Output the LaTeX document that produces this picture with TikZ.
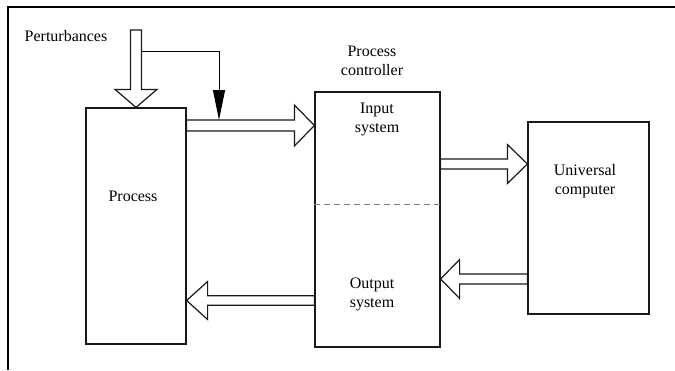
\documentclass[tikz,border=0pt]{standalone}
\usepackage{fontspec}
\setmainfont{Liberation Serif}
\usetikzlibrary{calc,arrows.meta}
\tikzset{
  box/.style={draw=black!90, line width=1.2bp, minimum width=#1, inner sep=0pt},
  lbl/.style={align=center, inner sep=0pt, font=\fontsize{16bp}{19bp}\selectfont},
  blockarrow/.style args={#1/#2/#3}{draw=black!90, fill=white, line width=1.2bp,
    to path={let \p1=(\tikztostart), \p2=(\tikztotarget),
      \n1={atan2(\y2-\y1,\x2-\x1)}, \n2={veclen(\x2-\x1,\y2-\y1)} in
      ++(\n1+90:{#1*1bp}) -- ++(\n1:{\n2*1pt-#3*1bp}) -- ++(\n1+90:{#2*1bp-#1*1bp}) -- (\tikztotarget)
      -- ($(\tikztotarget)+(\n1+180:{#3*1bp})+(\n1-90:{#2*1bp})$) -- ++(\n1+90:{#2*1bp-#1*1bp})
      -- ($(\tikztostart)+(\n1-90:{#1*1bp})$) -- cycle}},
  thinarrow/.style={draw=black, line width=1bp, -{Triangle[length=30bp,width=12bp]}},
}
\begin{document}
\begin{tikzpicture}[x=1bp,y=-1bp]
\useasboundingbox (0,0) rectangle (675,370);
% frame
\draw[line width=2.2bp] (8,370) -- (8,7) -- (675,7);
% boxes
\node[box=100bp, minimum height=236bp] (proc) at (136,226) {};
\node[box=125bp, minimum height=255bp] (ctrl) at (377.5,219.5) {};
\node[box=121bp, minimum height=192bp] (comp) at (588.5,218) {};
\draw[gray, line width=1bp, dash pattern=on 6bp off 4bp] (ctrl.west |- 0,204) -- (ctrl.east |- 0,204);
% labels
\node[lbl] (pert) at (66,36) {Perturbances};
\node[lbl] (ctrltitle) at (372,61) {Process\\controller};
\node[lbl] (inp) at (377,119) {Input\\system};
\node[lbl] (outp) at (372,294) {Output\\system};
\node[lbl] (proctxt) at (133,196) {Process};
\node[lbl] (comptxt) at (585,181) {Universal\\computer};
% coordinates for arrow ends
\coordinate (ptop) at (136,30);
\coordinate (a1s) at (proc.east |- 0,125.5);
\coordinate (a1e) at (ctrl.west |- 0,125.5);
\coordinate (a2s) at (ctrl.east |- 0,164);
\coordinate (a2e) at (comp.west |- 0,164);
\coordinate (a3s) at (comp.west |- 0,279);
\coordinate (a3e) at (ctrl.east |- 0,279);
\coordinate (a4s) at (ctrl.west |- 0,300.5);
\coordinate (a4e) at (proc.east |- 0,300.5);
% thin perturbance line
\coordinate (tstart) at (142,51);
\coordinate (tend) at (219,120);
\draw[thinarrow] (tstart) -| (tend);
% block arrows
\draw[blockarrow=5.5/21/18] (ptop) to (proc.north);
\draw[blockarrow=5.5/20.5/20] (a1s) to (a1e);
\draw[blockarrow=5/19.5/20] (a2s) to (a2e);
\draw[blockarrow=5/19.5/19] (a3s) to (a3e);
\draw[blockarrow=4.7/19/21] (a4s) to (a4e);
\end{tikzpicture}
\end{document}
